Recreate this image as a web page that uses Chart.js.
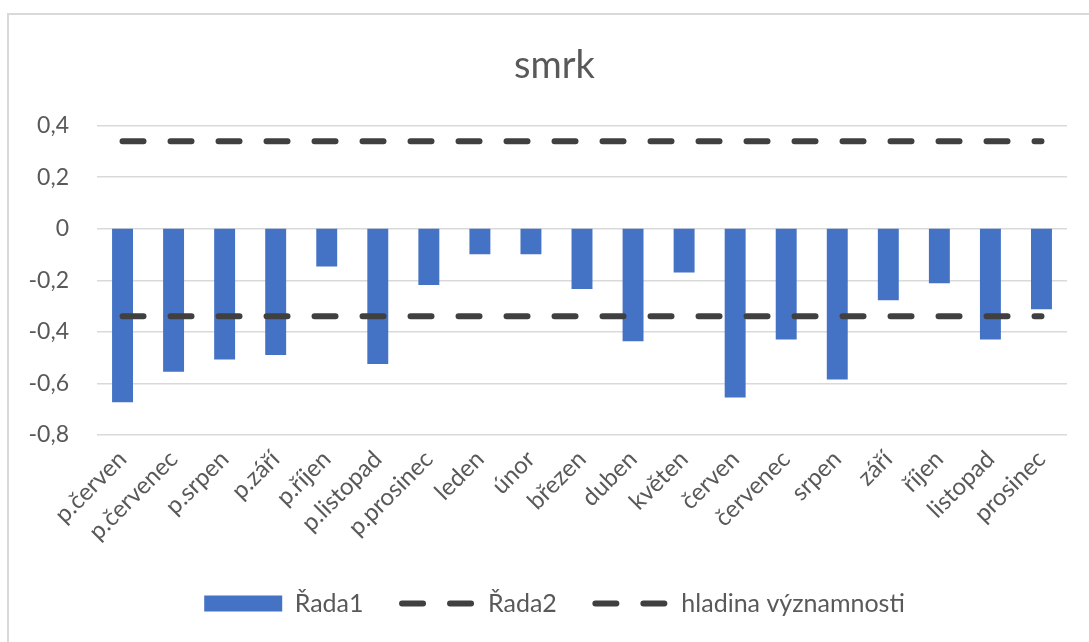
<!DOCTYPE html>
<html><head><meta charset="utf-8">
<script src="https://cdn.jsdelivr.net/npm/chart.js@4.4.1/dist/chart.umd.min.js"></script>
<style>
html,body{margin:0;padding:0;background:#fff;overflow:hidden}
#wrap{position:relative;width:1089px;height:642px}
#frame{position:absolute;left:7px;top:13px;width:1100px;height:650px;border-left:2px solid #d9d9d9;border-top:2px solid #d9d9d9;pointer-events:none}
canvas{position:absolute;left:0;top:0}
</style></head><body>
<div id="wrap"><canvas id="c" width="1089" height="642"></canvas><div id="frame"></div></div>
<script>
const categories = ['p.červen','p.červenec','p.srpen','p.září','p.říjen','p.listopad','p.prosinec','leden','únor','březen','duben','květen','červen','červenec','srpen','září','říjen','listopad','prosinec'];
const rada1 = [-0.673,-0.555,-0.507,-0.490,-0.146,-0.525,-0.218,-0.099,-0.099,-0.234,-0.436,-0.170,-0.655,-0.430,-0.585,-0.277,-0.211,-0.430,-0.312];
const rada2 = [-0.339,-0.339,-0.339,-0.339,-0.339,-0.339,-0.339,-0.339,-0.339,-0.339,-0.339,-0.339,-0.339,-0.339,-0.339,-0.339,-0.339,-0.339,-0.339];
const hladina = [0.339,0.339,0.339,0.339,0.339,0.339,0.339,0.339,0.339,0.339,0.339,0.339,0.339,0.339,0.339,0.339,0.339,0.339,0.339];
const yTickValues = [-0.8,-0.6,-0.4,-0.2,0,0.2,0.4];
const yTickLabels = ['-0,8','-0,6','-0,4','-0,2','0','0,2','0,4'];
const seriesNames = ['Řada1','Řada2','hladina významnosti'];

const TEXT = '#595959', GRID = '#d9d9d9', BLUE = '#4472C4', DASH = '#404040';
const FONT = 'Lato';
const dashPattern = [21, 27];

const lineDs = (label, data) => ({
  type: 'line', label, data, order: 0,
  borderColor: DASH, backgroundColor: DASH, borderWidth: 6,
  borderDash: dashPattern, borderCapStyle: 'round',
  pointRadius: 0, pointHoverRadius: 0, tension: 0, fill: false
});

// let the y-axis labels use the space left of the axis box (no clipping)
const widenYAxis = { id: 'widenYAxis', afterLayout(chart) { chart.scales.y.left = 10; } };

new Chart(document.getElementById('c'), {
  type: 'bar',
  data: {
    labels: categories,
    datasets: [
      { type: 'bar', label: seriesNames[0], data: rada1, order: 1, backgroundColor: BLUE, borderWidth: 0,
        barPercentage: 0.41, categoryPercentage: 1 },
      lineDs(seriesNames[1], rada2),
      lineDs(seriesNames[2], hladina)
    ]
  },
  plugins: [widenYAxis],
  options: {
    responsive: false, animation: false,
    layout: { padding: { left: 42, right: 22, top: 14, bottom: 16 } },
    plugins: {
      tooltip: { enabled: false },
      title: { display: true, text: 'smrk', color: TEXT,
        font: { family: FONT, size: 38, weight: 'normal', lineHeight: 1.2 },
        padding: { top: 29, bottom: 37 } },
      legend: {
        position: 'bottom',
        labels: {
          usePointStyle: true, pointStyleWidth: 78, boxHeight: 16, padding: 34,
          color: TEXT, font: { family: FONT, size: 25 },
          sort: (a, b) => a.datasetIndex - b.datasetIndex,
          generateLabels: (chart) => {
            const items = Chart.defaults.plugins.legend.labels.generateLabels(chart);
            items.forEach(it => {
              if (it.datasetIndex === 0) {
                it.pointStyle = 'rect'; it.lineWidth = 0; it.fillStyle = BLUE; it.strokeStyle = BLUE;
              } else {
                it.pointStyle = 'line'; it.lineWidth = 6; it.strokeStyle = DASH;
                it.lineDash = dashPattern; it.lineDashOffset = 43.5; it.lineCap = 'round';
              }
            });
            return items;
          }
        }
      }
    },
    scales: {
      x: {
        grid: { display: false }, border: { display: false },
        ticks: { color: TEXT, font: { family: FONT, size: 24 }, minRotation: 45, maxRotation: 45, autoSkip: false, padding: 2 },
        afterFit: (a) => { a.height = 122; }
      },
      y: {
        min: -0.8, max: 0.4,
        grid: { color: GRID, lineWidth: 1.5, drawTicks: false },
        border: { display: false },
        ticks: { stepSize: 0.2, color: TEXT, font: { family: FONT, size: 23 }, padding: 28,
          callback: (v) => { const i = yTickValues.findIndex(t => Math.abs(t - v) < 1e-6); return i >= 0 ? yTickLabels[i] : ''; } },
        afterFit: (a) => { a.width = 55; }
      }
    }
  }
});
</script>
</body></html>
